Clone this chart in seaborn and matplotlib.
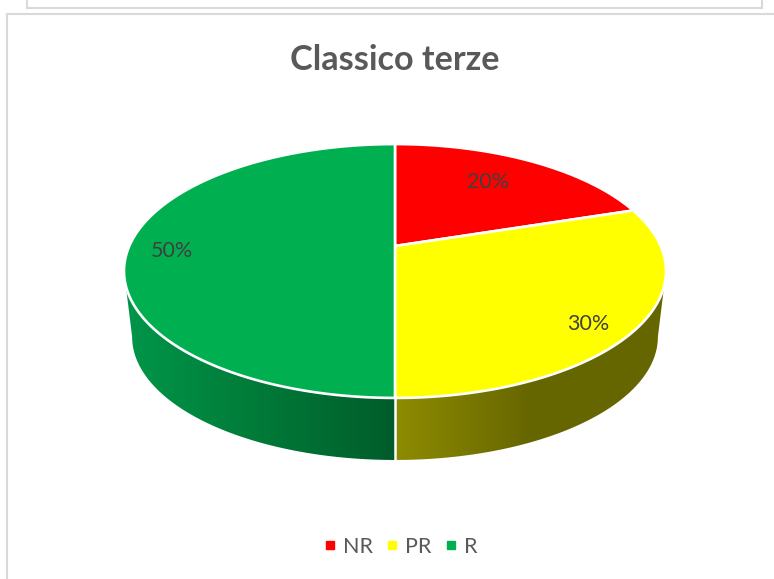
"""Classico terze: perspective pie with extruded wall."""
import matplotlib
matplotlib.use("Agg")
import matplotlib.pyplot as plt
import numpy as np
import seaborn as sns
from matplotlib.colors import LinearSegmentedColormap
from matplotlib.lines import Line2D
from matplotlib.patches import PathPatch, Polygon, Rectangle
from matplotlib.path import Path

TITLE = "Classico terze"
categories = ["NR", "PR", "R"]
shares = [20, 30, 50]
slice_colors = ["#FF0000", "#FFFF00", "#00B050"]
wall_colors = [
    ["#7F0000", "#7F0000"],
    ["#8E8C00", "#666600", "#666600"],
    ["#00964A", "#007A38", "#005C2A"],
]
label_radius = [0.70, 0.85, 0.84]
label_nudge = [(-5, -2), (-9, 10), (0, 5)]

W, H = 774, 579
CX, HUB_Y = 395, 246      # where the wedges meet, pixels
RX, RY, TILT = 265.7, 122, 0.197
BASE_SCALE, BASE_DROP = 0.97, 66.6


def project(deg, r=1.0, scale=1.0, drop=0.0):
    """Clockwise angle from 12 o'clock on the disc -> pixel position."""
    a = np.radians(deg)
    x, y = r * np.sin(a), r * np.cos(a)
    d = 1 + TILT * y
    return CX + scale * RX * x / d, HUB_Y + drop - scale * RY * y / d


sns.set_theme(style="white")
plt.rcParams["font.family"] = ["Lato", "DejaVu Sans"]

fig = plt.figure(figsize=(W / 100, H / 100), dpi=100)
ax = fig.add_axes([0, 0, 1, 1])
ax.set_xlim(0, W)
ax.set_ylim(H, 0)
ax.axis("off")

# chart frames
ax.add_patch(Rectangle((27, -10), 735, 18, fc="white", ec="#D9D9D9", lw=1.5))
ax.add_patch(Rectangle((7, 14), W, H, fc="white", ec="#D9D9D9", lw=1.5))

palette = sns.color_palette(slice_colors)
edges = np.concatenate([[0], np.cumsum(shares)]) / sum(shares) * 360

# only the front of the wall shows, between the two side extremes of the disc
side = np.degrees(np.arccos(-TILT))
front_lo, front_hi = side, 360 - side

for i in range(len(shares)):
    start, stop = max(edges[i], front_lo), min(edges[i + 1], front_hi)
    if start >= stop:
        continue
    t = np.linspace(start, stop, 120)
    tx, ty = project(t)
    bx, by = project(t[::-1], scale=BASE_SCALE, drop=BASE_DROP)
    verts = np.column_stack([np.r_[tx, bx], np.r_[ty, by]])
    poly = Polygon(verts, closed=True, transform=ax.transData)
    cmap = LinearSegmentedColormap.from_list(f"wall{i}", wall_colors[i])
    grad = np.linspace(0, 1, 256)[None, :]
    lo, hi = verts[:, 0].min(), verts[:, 0].max()
    # yellow darkens away from the seam, green darkens towards it
    extent = (lo, CX, 0, H) if i == 2 else (CX, hi, 0, H)
    im = ax.imshow(grad, cmap=cmap, extent=extent, aspect="auto", zorder=2)
    im.set_clip_path(poly)
ax.set_xlim(0, W)
ax.set_ylim(H, 0)

# seam between yellow and green wall
sx0, sy0 = project(180)
sx1, sy1 = project(180, scale=BASE_SCALE, drop=BASE_DROP)
ax.plot([sx0, sx1], [sy0, sy1], color="white", lw=1.8, zorder=3)

# top disc
for i, color in enumerate(palette):
    t = np.linspace(edges[i], edges[i + 1], 120)
    tx, ty = project(t)
    verts = np.column_stack([np.r_[CX, tx, CX], np.r_[HUB_Y, ty, HUB_Y]])
    ax.add_patch(PathPatch(Path(verts, closed=False), fc=color, ec="white",
                           lw=1.9, joinstyle="round", zorder=4))

# value labels
for i, v in enumerate(shares):
    mid = (edges[i] + edges[i + 1]) / 2
    lx, ly = project(mid, r=label_radius[i])
    ax.text(lx + label_nudge[i][0], ly + label_nudge[i][1], f"{v}%", ha="center",
            va="center", fontsize=15.5, color="#404040", zorder=5)

ax.text(395, 60.5, TITLE, ha="center", va="center", fontsize=24.6,
        fontweight="bold", color="#595959")

handles = [Line2D([], [], ls="none", marker="s", ms=5.5, color=c, label=n)
           for n, c in zip(categories, palette)]
ax.legend(handles=handles, ncol=3, loc="center", bbox_to_anchor=(397 / W, 1 - 547 / H),
          frameon=False, fontsize=15.5, labelcolor="#595959", handletextpad=0.0,
          columnspacing=0.3, handlelength=1.2)

fig.savefig("out.png", dpi=100)
